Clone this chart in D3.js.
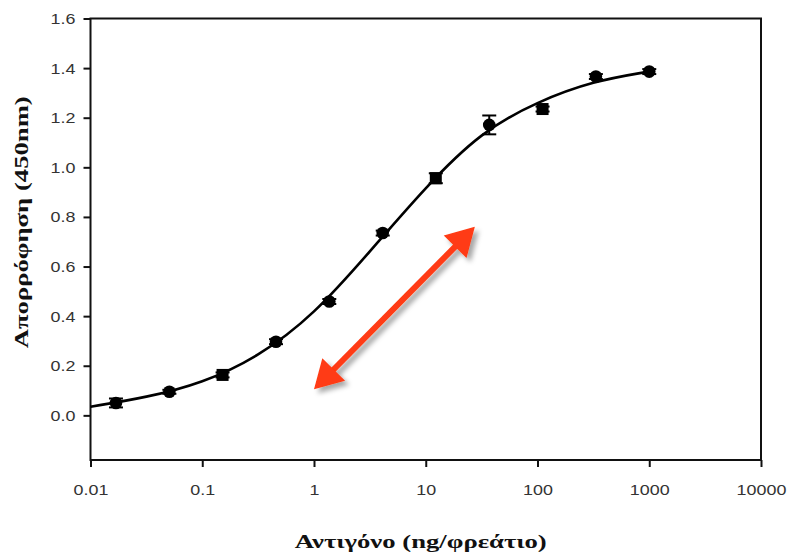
<!DOCTYPE html>
<html>
<head>
<meta charset="utf-8">
<script src="https://cdn.jsdelivr.net/npm/d3@7"></script>
<style>
  html, body { margin: 0; padding: 0; background: #fff; }
  svg { display: block; }
</style>
</head>
<body>
<svg id="chart" width="787" height="553"></svg>
<script>
// ---- data ----
const concentrations = [0.0169, 0.0508, 0.152, 0.457, 1.37, 4.12, 12.3, 37.0, 111, 333, 1000];
const absorbance     = [0.050, 0.095, 0.163, 0.297, 0.459, 0.735, 0.956, 1.171, 1.235, 1.366, 1.386];
const errors         = [0.018, 0.008, 0.010, 0.010, 0.010, 0.010, 0.020, 0.038, 0.010, 0.010, 0.010];
const markerKinds    = ["circle","circle","square","circle","circle","circle","square","circle","square","circle","circle"];

const fitX = [0.01, 0.0316, 0.1, 0.316, 1, 3.16, 10, 31.6, 100, 316, 1000];
const fitY = [0.035, 0.072, 0.130, 0.235, 0.405, 0.660, 0.922, 1.145, 1.265, 1.348, 1.386];

const xTicks = [0.01, 0.1, 1, 10, 100, 1000, 10000];
const xTickLabels = ["0.01", "0.1", "1", "10", "100", "1000", "10000"];
const yTicks = [0.0, 0.2, 0.4, 0.6, 0.8, 1.0, 1.2, 1.4, 1.6];

const arrowFrom = [1.0, 0.105];
const arrowTo   = [27.5, 0.76];

const xTitle = "Αντιγόνο (ng/φρεάτιο)";
const yTitle = "Απορρόφηση (450nm)";

// ---- layout ----
const svg = d3.select("#chart");
const L = 90.5, R = 761, T = 18.5, B = 460;

const x = d3.scaleLog().domain([0.01, 10000]).range([L, R]);
const y = d3.scaleLinear().domain([-0.18, 1.6]).range([B, T]);

svg.append("rect").attr("width", 787).attr("height", 553).attr("fill", "#fff");

const defs = svg.append("defs");
const f = defs.append("filter").attr("id", "shadow").attr("x", "-20%").attr("y", "-20%").attr("width", "150%").attr("height", "150%");
f.append("feDropShadow").attr("dx", 4).attr("dy", 4).attr("stdDeviation", 2.5)
  .attr("flood-color", "#000").attr("flood-opacity", 0.35);

// axes
const xAxis = d3.axisBottom(x).tickValues(xTicks)
  .tickFormat((d, i) => xTickLabels[i]).tickSize(7).tickSizeOuter(0).tickPadding(8);
const gx = svg.append("g").attr("transform", `translate(0,${B})`).call(xAxis);
gx.select(".domain").remove();
gx.selectAll(".tick line").attr("stroke", "#111").attr("stroke-width", 2);
gx.selectAll(".tick text")
  .attr("font-family", "'Liberation Sans', Arial, sans-serif")
  .attr("font-size", 14).attr("fill", "#333")
  .attr("y", 0).attr("dy", null)
  .attr("transform", "translate(0,35) scale(1.28,1)");

const yAxis = d3.axisLeft(y).tickValues(yTicks).tickFormat(d3.format(".1f"))
  .tickSize(7).tickSizeOuter(0);
const gy = svg.append("g").attr("transform", `translate(${L},0)`).call(yAxis);
gy.select(".domain").remove();
gy.selectAll(".tick line").attr("stroke", "#111").attr("stroke-width", 2);
gy.selectAll(".tick text")
  .attr("font-family", "'Liberation Sans', Arial, sans-serif")
  .attr("font-size", 14).attr("fill", "#333")
  .attr("x", 0).attr("dy", "0.35em")
  .attr("transform", "translate(-15,0) scale(1.28,1)");

// frame
svg.append("rect").attr("x", L).attr("y", T).attr("width", R - L).attr("height", B - T)
  .attr("fill", "none").attr("stroke", "#111").attr("stroke-width", 2);

// fitted curve
const line = d3.line().x(d => x(d[0])).y(d => y(d[1])).curve(d3.curveBasis);
svg.append("path").datum(fitX.map((v, i) => [v, fitY[i]]))
  .attr("d", line).attr("fill", "none").attr("stroke", "#000").attr("stroke-width", 2.6);

// error bars
const pts = concentrations.map((c, i) => ({c, v: absorbance[i], e: errors[i], k: markerKinds[i]}));
const eb = svg.append("g").attr("stroke", "#000").attr("stroke-width", 2);
eb.selectAll("line.v").data(pts).join("line").attr("class", "v")
  .attr("x1", d => x(d.c)).attr("x2", d => x(d.c))
  .attr("y1", d => y(d.v - d.e)).attr("y2", d => y(d.v + d.e));
eb.selectAll("line.t").data(pts).join("line").attr("class", "t")
  .attr("x1", d => x(d.c) - 7).attr("x2", d => x(d.c) + 7)
  .attr("y1", d => y(d.v + d.e)).attr("y2", d => y(d.v + d.e));
eb.selectAll("line.b").data(pts).join("line").attr("class", "b")
  .attr("x1", d => x(d.c) - 7).attr("x2", d => x(d.c) + 7)
  .attr("y1", d => y(d.v - d.e)).attr("y2", d => y(d.v - d.e));

// markers
const mk = svg.append("g").attr("fill", "#000");
mk.selectAll("circle").data(pts.filter(d => d.k === "circle")).join("circle")
  .attr("cx", d => x(d.c)).attr("cy", d => y(d.v)).attr("r", 6.3);
mk.selectAll("rect").data(pts.filter(d => d.k === "square")).join("rect")
  .attr("x", d => x(d.c) - 6).attr("y", d => y(d.v) - 6).attr("width", 12).attr("height", 12);

// arrow
const ax1 = x(arrowFrom[0]), ay1 = y(arrowFrom[1]);
const ax2 = x(arrowTo[0]), ay2 = y(arrowTo[1]);
const ang = Math.atan2(ay2 - ay1, ax2 - ax1);
const headLen = 28, headW = 16;
function head(px, py, a) {
  const bx = px - headLen * Math.cos(a), by = py - headLen * Math.sin(a);
  const nx = -Math.sin(a) * headW, ny = Math.cos(a) * headW;
  return `M${px},${py}L${bx + nx},${by + ny}L${bx - nx},${by - ny}Z`;
}
const ag = svg.append("g").attr("filter", "url(#shadow)");
const sx1 = ax1 + (headLen - 4) * Math.cos(ang), sy1 = ay1 + (headLen - 4) * Math.sin(ang);
const sx2 = ax2 - (headLen - 4) * Math.cos(ang), sy2 = ay2 - (headLen - 4) * Math.sin(ang);
ag.append("line").attr("x1", sx1).attr("y1", sy1).attr("x2", sx2).attr("y2", sy2)
  .attr("stroke", "#ff3a12").attr("stroke-width", 6);
ag.append("path").attr("d", head(ax2, ay2, ang)).attr("fill", "#ff3a12");
ag.append("path").attr("d", head(ax1, ay1, ang + Math.PI)).attr("fill", "#ff3a12");

// titles
svg.append("text").attr("x", (L + R) / 2 - 5).attr("y", 548)
  .attr("text-anchor", "middle")
  .attr("font-family", "'Liberation Serif', 'Times New Roman', serif")
  .attr("font-weight", "bold").attr("font-size", 19).attr("fill", "#111")
  .attr("textLength", 252).attr("lengthAdjust", "spacingAndGlyphs")
  .text(xTitle);

svg.append("text").attr("transform", `translate(28,${(T + 416) / 2 + 5}) rotate(-90)`)
  .attr("text-anchor", "middle")
  .attr("font-family", "'Liberation Serif', 'Times New Roman', serif")
  .attr("font-weight", "bold").attr("font-size", 19).attr("fill", "#111")
  .attr("textLength", 252).attr("lengthAdjust", "spacingAndGlyphs")
  .text(yTitle);
</script>
</body>
</html>
